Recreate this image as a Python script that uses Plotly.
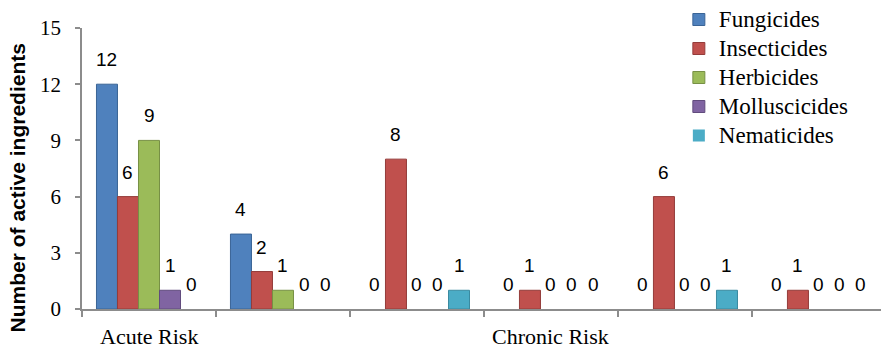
import plotly.graph_objects as go

# Six groups of active-ingredient counts (one acute group, five chronic groups)
group_index = [0, 1, 2, 3, 4, 5]

series_names = ["Fungicides", "Insecticides", "Herbicides", "Molluscicides", "Nematicides"]
fungicides = [12, 4, 0, 0, 0, 0]
insecticides = [6, 2, 8, 1, 6, 1]
herbicides = [9, 1, 0, 0, 0, 0]
molluscicides = [1, 0, 0, 0, 0, 0]
nematicides = [0, 0, 1, 0, 1, 0]

# Risk categories and the groups each one spans
risk_labels = ["Acute Risk", "Chronic Risk"]
risk_groups = [[0], [1, 2, 3, 4, 5]]

y_ticks = [0, 3, 6, 9, 12, 15]

fills = ["#4F81BD", "#C0504D", "#9BBB59", "#8064A2", "#4BACC6"]
edges = ["#3A6496", "#943C3A", "#779045", "#614B7D", "#3A8AA0"]

series_values = [fungicides, insecticides, herbicides, molluscicides, nematicides]

BARGAP = 0.216
n_series = len(series_values)
bar_w = (1 - BARGAP) / n_series

SERIF = "Liberation Serif, Times New Roman, serif"
SANS = "Liberation Sans, Arial, sans-serif"

fig = go.Figure()
annotations = []
for i, (name, vals) in enumerate(zip(series_names, series_values)):
    fig.add_trace(go.Bar(
        x=group_index, y=vals,
        name=f'<span style="font-size:23px">{name}</span>',
        hovertext=[name] * len(vals), hoverinfo="x+y+text",
        marker=dict(
            color=fills[i],
            # no outline on empty bars so nothing is drawn at zero
            line=dict(color=edges[i], width=[1 if v else 0 for v in vals]),
        ),
    ))
    # value labels above each bar
    for g, v in zip(group_index, vals):
        annotations.append(dict(
            x=g + (i - (n_series - 1) / 2) * bar_w, y=v, xref="x", yref="y",
            text=str(v), showarrow=False, yanchor="bottom", yshift=12,
            font=dict(family=SANS, size=19, color="#000000"),
        ))

# category labels under the axis
for label, members in zip(risk_labels, risk_groups):
    annotations.append(dict(
        x=(min(members) + max(members)) / 2, y=-0.097, xref="x", yref="paper",
        text=label, showarrow=False, yanchor="middle", xanchor="center",
        font=dict(family=SERIF, size=22, color="#000000"),
    ))

# rotated y-axis title
annotations.append(dict(
    x=-0.081, y=0.43, xref="paper", yref="paper", textangle=-90,
    text="<b>Number of active ingredients</b>", showarrow=False,
    xanchor="center", yanchor="middle",
    font=dict(family=SANS, size=21, color="#000000"),
))

fig.update_layout(
    width=881, height=350,
    margin=dict(l=82, r=0, t=28, b=41),
    barmode="group", bargap=BARGAP, bargroupgap=0,
    plot_bgcolor="white", paper_bgcolor="white",
    showlegend=True,
    legend=dict(
        x=0.747, y=1.1, xanchor="left", yanchor="top",
        bgcolor="rgba(0,0,0,0)", tracegroupgap=0, itemwidth=30,
        font=dict(family=SERIF, size=20, color="#000000"),
    ),
    annotations=annotations,
    xaxis=dict(
        range=[-0.5, 5.463], showgrid=False, zeroline=False,
        showline=True, linecolor="#8C8C8C", linewidth=1.5,
        tickmode="array", tickvals=[-0.5, 0.5, 1.5, 2.5, 3.5, 4.5],
        ticktext=["", "", "", "", "", ""],
        ticks="outside", ticklen=6, tickcolor="#8C8C8C", tickwidth=1.5,
    ),
    yaxis=dict(
        range=[0, 15], tickvals=y_ticks, showgrid=False, zeroline=False,
        showline=True, linecolor="#8C8C8C", linewidth=1.5,
        ticks="outside", ticklen=5, tickcolor="#8C8C8C", tickwidth=1.5,
        ticklabelstandoff=10,
        tickfont=dict(family=SERIF, size=21, color="#000000"),
    ),
)

fig.write_html("out.html")
